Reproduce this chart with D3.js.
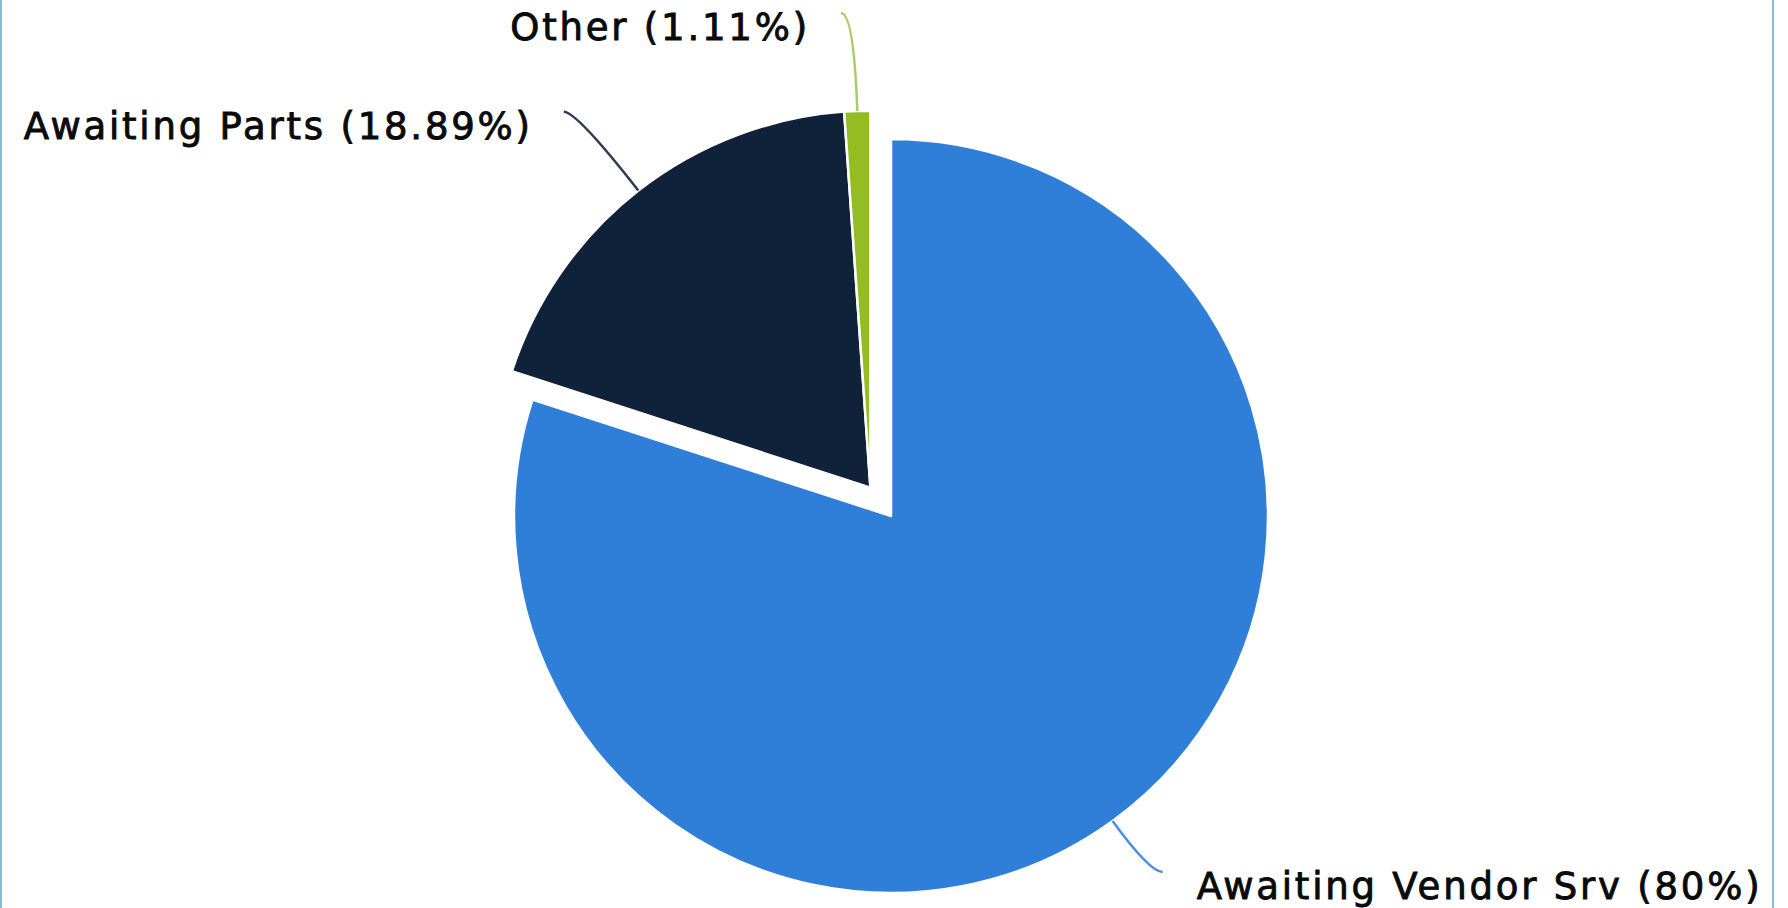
<!DOCTYPE html>
<html>
<head>
<meta charset="utf-8">
<script src="https://cdn.jsdelivr.net/npm/d3@7/dist/d3.min.js"></script>
<style>
  html, body { margin: 0; padding: 0; background: #ffffff; }
  svg { display: block; }
  .slice-label {
    font-family: "DejaVu Sans", Verdana, sans-serif; font-size: 37px; letter-spacing: 2.8px;
    fill: #0a0a0a; stroke: #0a0a0a; stroke-width: 0.9px;
  }
</style>
</head>
<body>
<svg id="chart"></svg>
<script>
// Ticket status breakdown (percent of open tickets)
const categories = ["Awaiting Vendor Srv", "Awaiting Parts", "Other"];
const shares = [80, 18.89, 1.11];
const pulledOut = [false, true, true];
const sliceColors = ["#2f7fd9", "#0f2239", "#93bd22"];
const leaderColors = ["#4a8fe0", "#2c3c52", "#a9cc62"];

const W = 1788, H = 908;
const cx = 891, cy = 516, radius = 377;
const explodeDist = 35;      // how far the pulled-out group sits from the centre
const leaderReach = 100;     // radial length of the leader before it turns
const hookLen = 13;          // short horizontal tail of the leader
const textGap = 34;          // space between leader tail and label text
const labelTop = 13, labelBottom = H - 36;

const svg = d3.select("#chart").attr("width", W).attr("height", H);

// side rules of the panel
svg.append("line").attr("x1", 1).attr("x2", 1).attr("y1", 0).attr("y2", H)
  .attr("stroke", "#7cc3d5").attr("stroke-width", 2);
svg.append("line").attr("x1", 1773).attr("x2", 1773).attr("y1", 0).attr("y2", H)
  .attr("stroke", "#7cc3d5").attr("stroke-width", 2);

const rows = categories.map((name, i) => ({ name, value: shares[i], out: pulledOut[i], i }));

const pie = d3.pie().value(d => d.value).sort(null).startAngle(0).endAngle(2 * Math.PI);
const arcs = pie(rows);

const arc = d3.arc().innerRadius(0).outerRadius(radius);

// the pulled-out slices move together along the middle of their combined span
const outArcs = arcs.filter(a => a.data.out);
const spanMid = (d3.min(outArcs, a => a.startAngle) + d3.max(outArcs, a => a.endAngle)) / 2;
const shift = [Math.sin(spanMid) * explodeDist, -Math.cos(spanMid) * explodeDist];

const g = svg.append("g").attr("transform", `translate(${cx},${cy})`);

g.selectAll("path.slice")
  .data(arcs)
  .join("path")
  .attr("class", "slice")
  .attr("d", arc)
  .attr("transform", d => d.data.out ? `translate(${shift[0]},${shift[1]})` : null)
  .attr("fill", d => sliceColors[d.data.i])
  .attr("stroke", "#ffffff")
  .attr("stroke-width", 2.5)
  .attr("stroke-linejoin", "round");

// leaders and labels
arcs.forEach(a => {
  const mid = (a.startAngle + a.endAngle) / 2;
  const dir = [Math.sin(mid), -Math.cos(mid)];
  const off = a.data.out ? shift : [0, 0];
  const start = [off[0] + dir[0] * radius, off[1] + dir[1] * radius];

  let reach = leaderReach;
  const ey = start[1] + dir[1] * reach;
  const top = labelTop - cy, bottom = labelBottom - cy;
  if (ey < top) { reach = (top - start[1]) / dir[1]; }
  if (ey > bottom) { reach = (bottom - start[1]) / dir[1]; }
  const elbow = [start[0] + dir[0] * reach, start[1] + dir[1] * reach];
  const left = dir[0] < 0;
  const end = [elbow[0] + (left ? -hookLen : hookLen), elbow[1]];

  g.append("path")
    .attr("d", `M${start[0]},${start[1]} Q${elbow[0]},${elbow[1]} ${end[0]},${end[1]}`)
    .attr("fill", "none")
    .attr("stroke", leaderColors[a.data.i])
    .attr("stroke-width", 2.5);

  g.append("text")
    .attr("class", "slice-label")
    .attr("x", end[0] + (left ? -textGap + 3 : textGap))
    .attr("y", elbow[1] + 27)
    .attr("text-anchor", left ? "end" : "start")
    .text(`${a.data.name} (${a.data.value}%)`);
});
</script>
</body>
</html>
